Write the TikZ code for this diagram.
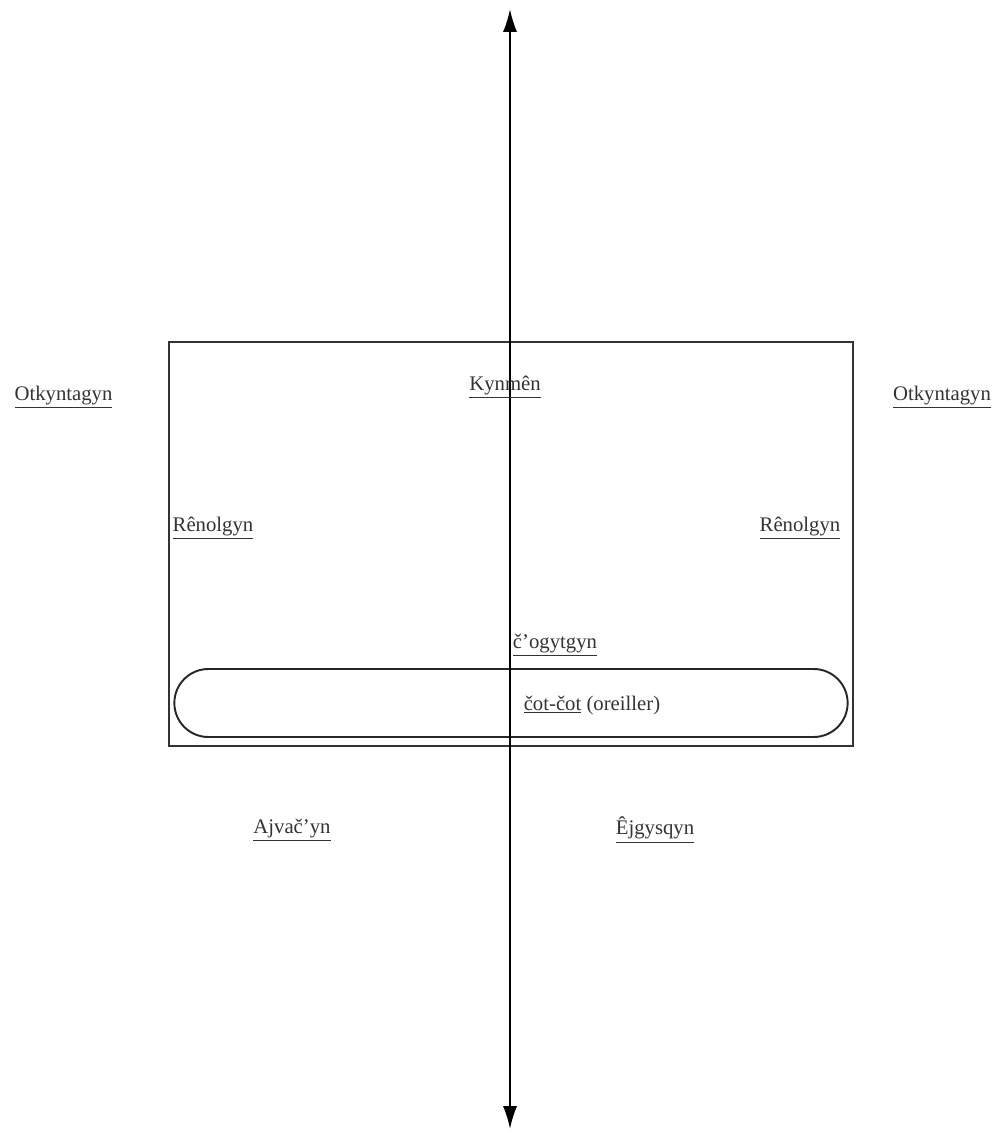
\documentclass[tikz,border=0pt]{standalone}
\usepackage{fontspec}
\setmainfont{Liberation Serif}
\usetikzlibrary{arrows.meta,positioning,shapes.misc}

\begin{document}
\begin{tikzpicture}[>={Latex[length=13pt,width=8pt]},thick,
  word/.style={font=\fontsize{11.8}{13}\selectfont,text=black!80,inner sep=1pt},
  frame box/.style={draw=black!80,line width=1.1pt,minimum width=13.68cm,minimum height=8.08cm},
  pillow box/.style={rounded rectangle,draw=black!85,line width=1.1pt,minimum width=13.7cm,minimum height=1.36cm}]
\useasboundingbox (0,0) rectangle (19.92,-22.72);
\node[frame box] (frame) at (10.22,-10.88) {};
\node[pillow box] (pillow) at (10.22,-14.06) {};
\coordinate (top) at (10.2,-0.18);
\coordinate (bottom) at (10.2,-22.58);
\draw[<->,line width=1.1pt] (bottom) -- (top);
\node[word] (otkL) at (1.27,-7.94) {\underline{Otkyntagyn}};
\node[word] (otkR) at (18.84,-7.94) {\underline{Otkyntagyn}};
\node[word] (kynmen) at (10.1,-7.74) {\underline{Kynmên}};
\node[word] (renL) at (4.26,-10.56) {\underline{Rênolgyn}};
\node[word] (renR) at (16.0,-10.56) {\underline{Rênolgyn}};
\node[word] (cogyt) at (11.1,-12.9) {\underline{č’ogytgyn}};
\node[word] (cotcot) at (11.84,-14.1) {\underline{čot-čot} (oreiller)};
\node[word] (ajvac) at (5.84,-16.6) {\underline{Ajvač’yn}};
\node[word] (ejgys) at (13.1,-16.6) {\underline{Êjgysqyn}};
\end{tikzpicture}
\end{document}
